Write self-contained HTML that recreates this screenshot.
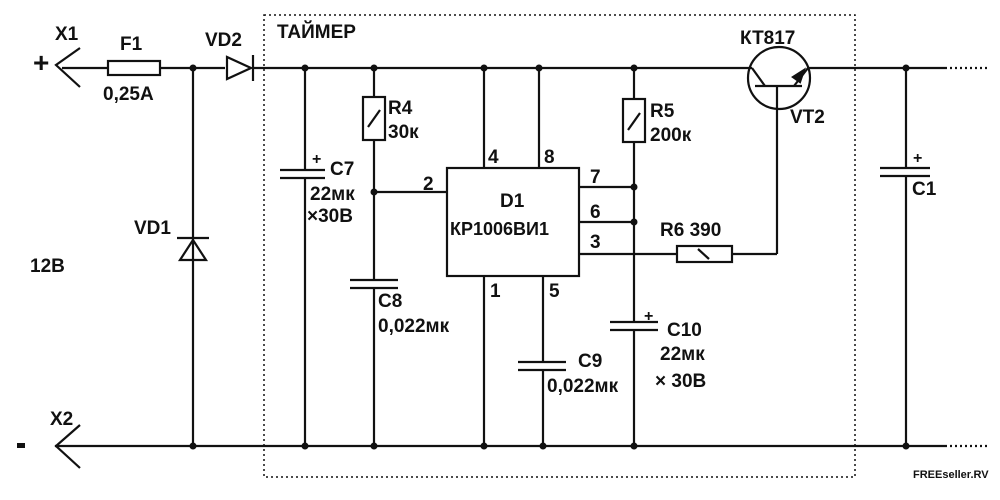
<!DOCTYPE html>
<html><head><meta charset="utf-8"><style>
body{margin:0;background:#fff}
svg{display:block}
text{font-family:"Liberation Sans",sans-serif;fill:#111;font-weight:bold}
</style></head><body>
<svg width="1000" height="500" viewBox="0 0 1000 500" xmlns="http://www.w3.org/2000/svg">
<g stroke="#111" stroke-width="2.2" fill="none">
<rect x="264" y="15" width="591" height="462" stroke-dasharray="2,3" stroke-width="1.5"/>
<line x1="62" y1="68" x2="108" y2="68"/>
<line x1="160" y1="68" x2="225" y2="68"/>
<line x1="253" y1="68" x2="752" y2="68"/>
<line x1="808" y1="68" x2="945" y2="68"/>
<line x1="945" y1="68" x2="990" y2="68" stroke-dasharray="2,3"/>
<polyline points="80,48 56,65 80,87"/>
<rect x="108" y="61" width="52" height="14"/>
<polygon points="227,57 227,79 251,68"/>
<line x1="253" y1="55" x2="253" y2="81"/>
<line x1="193" y1="68" x2="193" y2="446"/>
<line x1="177" y1="238" x2="209" y2="238"/>
<polygon points="193,240 180,260 206,260"/>
<line x1="55" y1="446" x2="945" y2="446"/>
<line x1="945" y1="446" x2="990" y2="446" stroke-dasharray="2,3"/>
<polyline points="80,425 56,446 80,468"/>
<line x1="305" y1="68" x2="305" y2="170"/>
<line x1="305" y1="178" x2="305" y2="446"/>
<line x1="280" y1="170" x2="325" y2="170"/>
<line x1="280" y1="178" x2="325" y2="178"/>
<line x1="374" y1="68" x2="374" y2="97"/>
<rect x="363" y="97" width="22" height="43"/>
<line x1="368" y1="127" x2="380" y2="110"/>
<line x1="374" y1="140" x2="374" y2="280"/>
<line x1="374" y1="288" x2="374" y2="446"/>
<line x1="350" y1="280" x2="398" y2="280"/>
<line x1="350" y1="288" x2="398" y2="288"/>
<line x1="374" y1="192" x2="447" y2="192"/>
<rect x="447" y="168" width="132" height="108"/>
<line x1="484" y1="68" x2="484" y2="168"/>
<line x1="539" y1="68" x2="539" y2="168"/>
<line x1="484" y1="276" x2="484" y2="446"/>
<line x1="543" y1="276" x2="543" y2="362"/>
<line x1="543" y1="370" x2="543" y2="446"/>
<line x1="518" y1="362" x2="566" y2="362"/>
<line x1="518" y1="370" x2="566" y2="370"/>
<line x1="579" y1="187" x2="634" y2="187"/>
<line x1="579" y1="222" x2="634" y2="222"/>
<line x1="579" y1="254" x2="677" y2="254"/>
<line x1="634" y1="68" x2="634" y2="99"/>
<rect x="623" y="99" width="22" height="43"/>
<line x1="628" y1="130" x2="640" y2="113"/>
<line x1="634" y1="142" x2="634" y2="322"/>
<line x1="634" y1="330" x2="634" y2="446"/>
<line x1="610" y1="322" x2="658" y2="322"/>
<line x1="610" y1="330" x2="658" y2="330"/>
<rect x="677" y="246" width="55" height="16"/>
<line x1="698" y1="249" x2="709" y2="259"/>
<line x1="732" y1="254" x2="777" y2="254"/>
<line x1="777" y1="254" x2="777" y2="86"/>
<circle cx="779" cy="78" r="31"/>
<line x1="755" y1="86" x2="802" y2="86"/>
<line x1="752" y1="68" x2="765" y2="86"/>
<line x1="808" y1="68" x2="794" y2="86"/>
<polygon points="804,70 793,77 800,82" fill="#111"/>
<line x1="906" y1="68" x2="906" y2="168"/>
<line x1="906" y1="176" x2="906" y2="446"/>
<line x1="880" y1="168" x2="930" y2="168"/>
<line x1="880" y1="176" x2="930" y2="176"/>
</g>
<g fill="#111">
<circle cx="193" cy="68" r="3.5"/><circle cx="305" cy="68" r="3.5"/><circle cx="374" cy="68" r="3.5"/>
<circle cx="484" cy="68" r="3.5"/><circle cx="539" cy="68" r="3.5"/><circle cx="634" cy="68" r="3.5"/>
<circle cx="906" cy="68" r="3.5"/><circle cx="374" cy="192" r="3.5"/>
<circle cx="634" cy="187" r="3.5"/><circle cx="634" cy="222" r="3.5"/>
<circle cx="193" cy="446" r="3.5"/><circle cx="305" cy="446" r="3.5"/><circle cx="374" cy="446" r="3.5"/>
<circle cx="484" cy="446" r="3.5"/><circle cx="543" cy="446" r="3.5"/><circle cx="634" cy="446" r="3.5"/>
<circle cx="906" cy="446" r="3.5"/>
<rect x="17" y="443" width="8" height="5"/>
</g>
<g font-size="19">
<text x="33" y="72" font-size="28">+</text>
<text x="55" y="40">X1</text>
<text x="120" y="50">F1</text>
<text x="103" y="100">0,25A</text>
<text x="205" y="46">VD2</text>
<text x="277" y="38">ТАЙМЕР</text>
<text x="134" y="234">VD1</text>
<text x="30" y="272">12В</text>
<text x="50" y="425">X2</text>
<text x="388" y="114">R4</text>
<text x="388" y="138">30к</text>
<text x="330" y="175">C7</text>
<text x="310" y="200">22мк</text>
<text x="307" y="222">×30В</text>
<text x="312" y="164" font-size="16">+</text>
<text x="423" y="190">2</text>
<text x="488" y="163">4</text>
<text x="544" y="163">8</text>
<text x="500" y="207">D1</text>
<text x="450" y="235" font-size="18">КР1006ВИ1</text>
<text x="590" y="183">7</text>
<text x="590" y="218">6</text>
<text x="590" y="248">3</text>
<text x="490" y="297">1</text>
<text x="549" y="297">5</text>
<text x="378" y="307">C8</text>
<text x="378" y="332">0,022мк</text>
<text x="578" y="367">C9</text>
<text x="547" y="392">0,022мк</text>
<text x="667" y="336">C10</text>
<text x="660" y="360">22мк</text>
<text x="655" y="387">× 30В</text>
<text x="644" y="321" font-size="16">+</text>
<text x="650" y="117">R5</text>
<text x="650" y="141">200к</text>
<text x="660" y="236">R6 390</text>
<text x="740" y="44">КТ817</text>
<text x="790" y="123">VT2</text>
<text x="912" y="195">C1</text>
<text x="913" y="163" font-size="16">+</text>
<text x="913" y="478" font-size="11" fill="#b00">FREEseller.RV</text>
</g>
</svg>
</body></html>
